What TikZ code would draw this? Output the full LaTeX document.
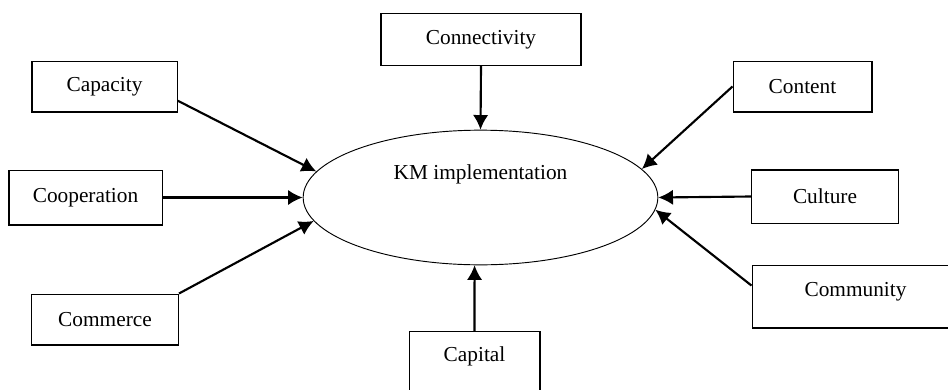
\documentclass[tikz,border=0pt]{standalone}
\usepackage{fontspec}
\setmainfont{Liberation Serif}
\usetikzlibrary{shapes.geometric}
\usetikzlibrary{arrows.meta}

\begin{document}
\begin{tikzpicture}[x=0.75pt, y=-0.75pt, >={Latex[length=11pt,width=11.5pt]},
  factor/.style={draw, line width=1pt, inner sep=0pt, font=\fontsize{16}{19}\selectfont},
  link/.style={line width=1.6pt, ->}]
  \path[use as bounding box] (0, 0) rectangle (948, 389);

  \node[draw, ellipse, line width=0.7pt, inner sep=0pt, minimum width=266pt, minimum height=101pt,
        text depth=38pt, font=\fontsize{16}{19}\selectfont] at (480.5, 197.5) (km) {KM implementation};

%%%%%%%%%%%% left side
  \node[factor, minimum width=109pt, minimum height=38pt] at (104.5, 86.5) (capacity) {Capacity};
  \node[factor, minimum width=115pt, minimum height=41pt] at (85.5, 197.5) (cooperation) {Cooperation};
  \node[factor, minimum width=110pt, minimum height=38pt] at (105, 319.5) (commerce) {Commerce};

%%%%%%%%%%%% top / bottom
  \node[factor, minimum width=150pt, minimum height=39pt] at (481, 39.5) (connectivity) {Connectivity};
  \node[factor, minimum width=98pt, minimum height=50pt, text depth=16pt] at (474.5, 365) (capital) {Capital};

%%%%%%%%%%%% right side
  \node[factor, minimum width=104pt, minimum height=38pt] at (802.5, 86.5) (content) {Content};
  \node[factor, minimum width=110pt, minimum height=40pt] at (825, 196.5) (culture) {Culture};
  \node[factor, minimum width=155pt, minimum height=47pt, text depth=11pt] at (855.5, 296.5) (community) {Community};

  \draw[link] (capacity.-11) -- (km.171);
  \draw[link] (cooperation.east) -- (km.west);
  \draw[link] (commerce.north east) -- (km.188);
  \draw[link] (connectivity.south) -- (km.north);
  \draw[link] (capital.north) -- (km.-95);
  \draw[link] (content.west) -- (km.10);
  \draw[link] (culture.west) -- (km.east);
  \draw[link] (community.174) -- (km.-4);
\end{tikzpicture}
\end{document}
